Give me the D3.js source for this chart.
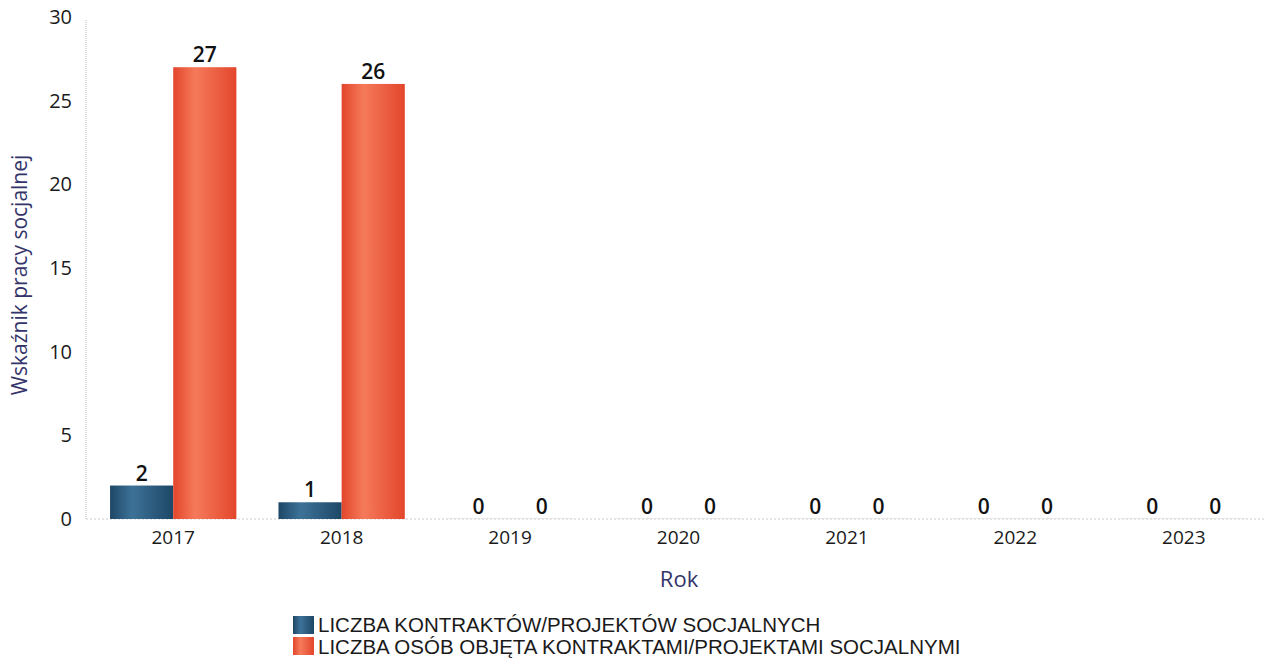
<!DOCTYPE html>
<html>
<head>
<meta charset="utf-8">
<script src="https://cdn.jsdelivr.net/npm/d3@7"></script>
<style>
  body { margin: 0; background: #fff; }
  svg { display: block; }
</style>
</head>
<body>
<svg width="1266" height="661"></svg>
<script>
const years = ["2017", "2018", "2019", "2020", "2021", "2022", "2023"]
const kontrakty = [2, 1, 0, 0, 0, 0, 0]
const osoby = [27, 26, 0, 0, 0, 0, 0]
const seriesNames = ["LICZBA KONTRAKTÓW/PROJEKTÓW SOCJALNYCH", "LICZBA OSÓB OBJĘTA KONTRAKTAMI/PROJEKTAMI SOCJALNYMI"]
const yTicks = [0, 5, 10, 15, 20, 25, 30]

const svg = d3.select('svg')
const plotLeft = 86, plotRight = 1268, plotTop = 17, plotBottom = 519

const x = d3.scaleBand().domain(years).range([plotLeft + 3, plotRight]).paddingInner(0.25).paddingOuter(0.125)
const xs = d3.scaleBand().domain([0, 1]).range([0, x.bandwidth()])
const y = d3.scaleLinear().domain([0, 30]).range([plotBottom, plotTop])

// cylinder-ish gradients
const defs = svg.append('defs')
function grad(id, dark, light) {
    const g = defs.append('linearGradient').attr('id', id).attr('x1', 0).attr('x2', 1).attr('y1', 0).attr('y2', 0)
    g.append('stop').attr('offset', '0%').attr('stop-color', dark)
    g.append('stop').attr('offset', '35%').attr('stop-color', light)
    g.append('stop').attr('offset', '100%').attr('stop-color', dark)
}
grad('gBlue', '#1e4766', '#3d7298')
grad('gRed', '#e3462c', '#f57a5a')
const fills = ['url(#gBlue)', 'url(#gRed)']

// axis lines (light dotted)
svg.append('line').attr('x1', plotLeft).attr('x2', plotLeft).attr('y1', 20).attr('y2', plotBottom)
    .attr('stroke', '#bbb').attr('stroke-dasharray', '1,1')
svg.append('line').attr('x1', plotLeft).attr('x2', plotRight).attr('y1', plotBottom).attr('y2', plotBottom)
    .attr('stroke', '#ccc').attr('stroke-dasharray', '2,2')

// y tick labels
const yAxis = svg.append('g').attr('transform', `translate(${plotLeft},0)`)
    .call(d3.axisLeft(y).tickValues(yTicks).tickSize(0).tickPadding(14))
yAxis.select('.domain').remove()
yAxis.selectAll('text').attr('font-family', 'Open Sans').attr('font-size', 20).attr('fill', '#1a1a1a')

// x tick labels
const xAxis = svg.append('g').attr('transform', `translate(0,${plotBottom})`)
    .call(d3.axisBottom(x).tickSize(0).tickPadding(12))
xAxis.select('.domain').remove()
xAxis.selectAll('text').attr('font-family', 'Open Sans').attr('font-size', 19).attr('fill', '#1a1a1a')

const series = [kontrakty, osoby]
series.forEach((vals, si) => {
    const g = svg.append('g')
    g.selectAll('rect').data(vals).enter().append('rect')
        .attr('x', (d, i) => x(years[i]) + xs(si))
        .attr('width', xs.bandwidth())
        .attr('y', d => Math.min(y(d), plotBottom - 1))
        .attr('height', d => Math.max(plotBottom - y(d), 1))
        .attr('fill', d => d > 0 ? fills[si] : '#ddd')
        .attr('opacity', d => d > 0 ? 1 : 0.6)
    g.selectAll('text').data(vals).enter().append('text')
        .attr('x', (d, i) => x(years[i]) + xs(si) + xs.bandwidth() / 2)
        .attr('y', d => y(d) - 5)
        .attr('text-anchor', 'middle')
        .attr('font-family', 'Open Sans')
        .attr('font-size', 21)
        .attr('font-weight', 600)
        .attr('fill', '#111')
        .text(d => d)
})

// axis titles
svg.append('text').attr('transform', `translate(27,275) rotate(-90)`)
    .attr('text-anchor', 'middle').attr('font-family', 'Open Sans').attr('font-size', 21)
    .attr('fill', '#34346a').text('Wskaźnik pracy socjalnej')
svg.append('text').attr('x', 679).attr('y', 587)
    .attr('text-anchor', 'middle').attr('font-family', 'Open Sans').attr('font-size', 22)
    .attr('fill', '#34346a').text('Rok')

// legend
const legend = svg.append('g').attr('transform', 'translate(293,616)')
seriesNames.forEach((name, i) => {
    legend.append('rect').attr('x', 0).attr('y', i * 21).attr('width', 21).attr('height', 18)
        .attr('fill', fills[i])
    legend.append('text').attr('x', 25).attr('y', i * 22 + 16)
        .attr('font-family', 'Liberation Sans').attr('font-size', 20.5).attr('fill', '#1a1a1a')
        .text(name)
})
</script>
</body>
</html>
